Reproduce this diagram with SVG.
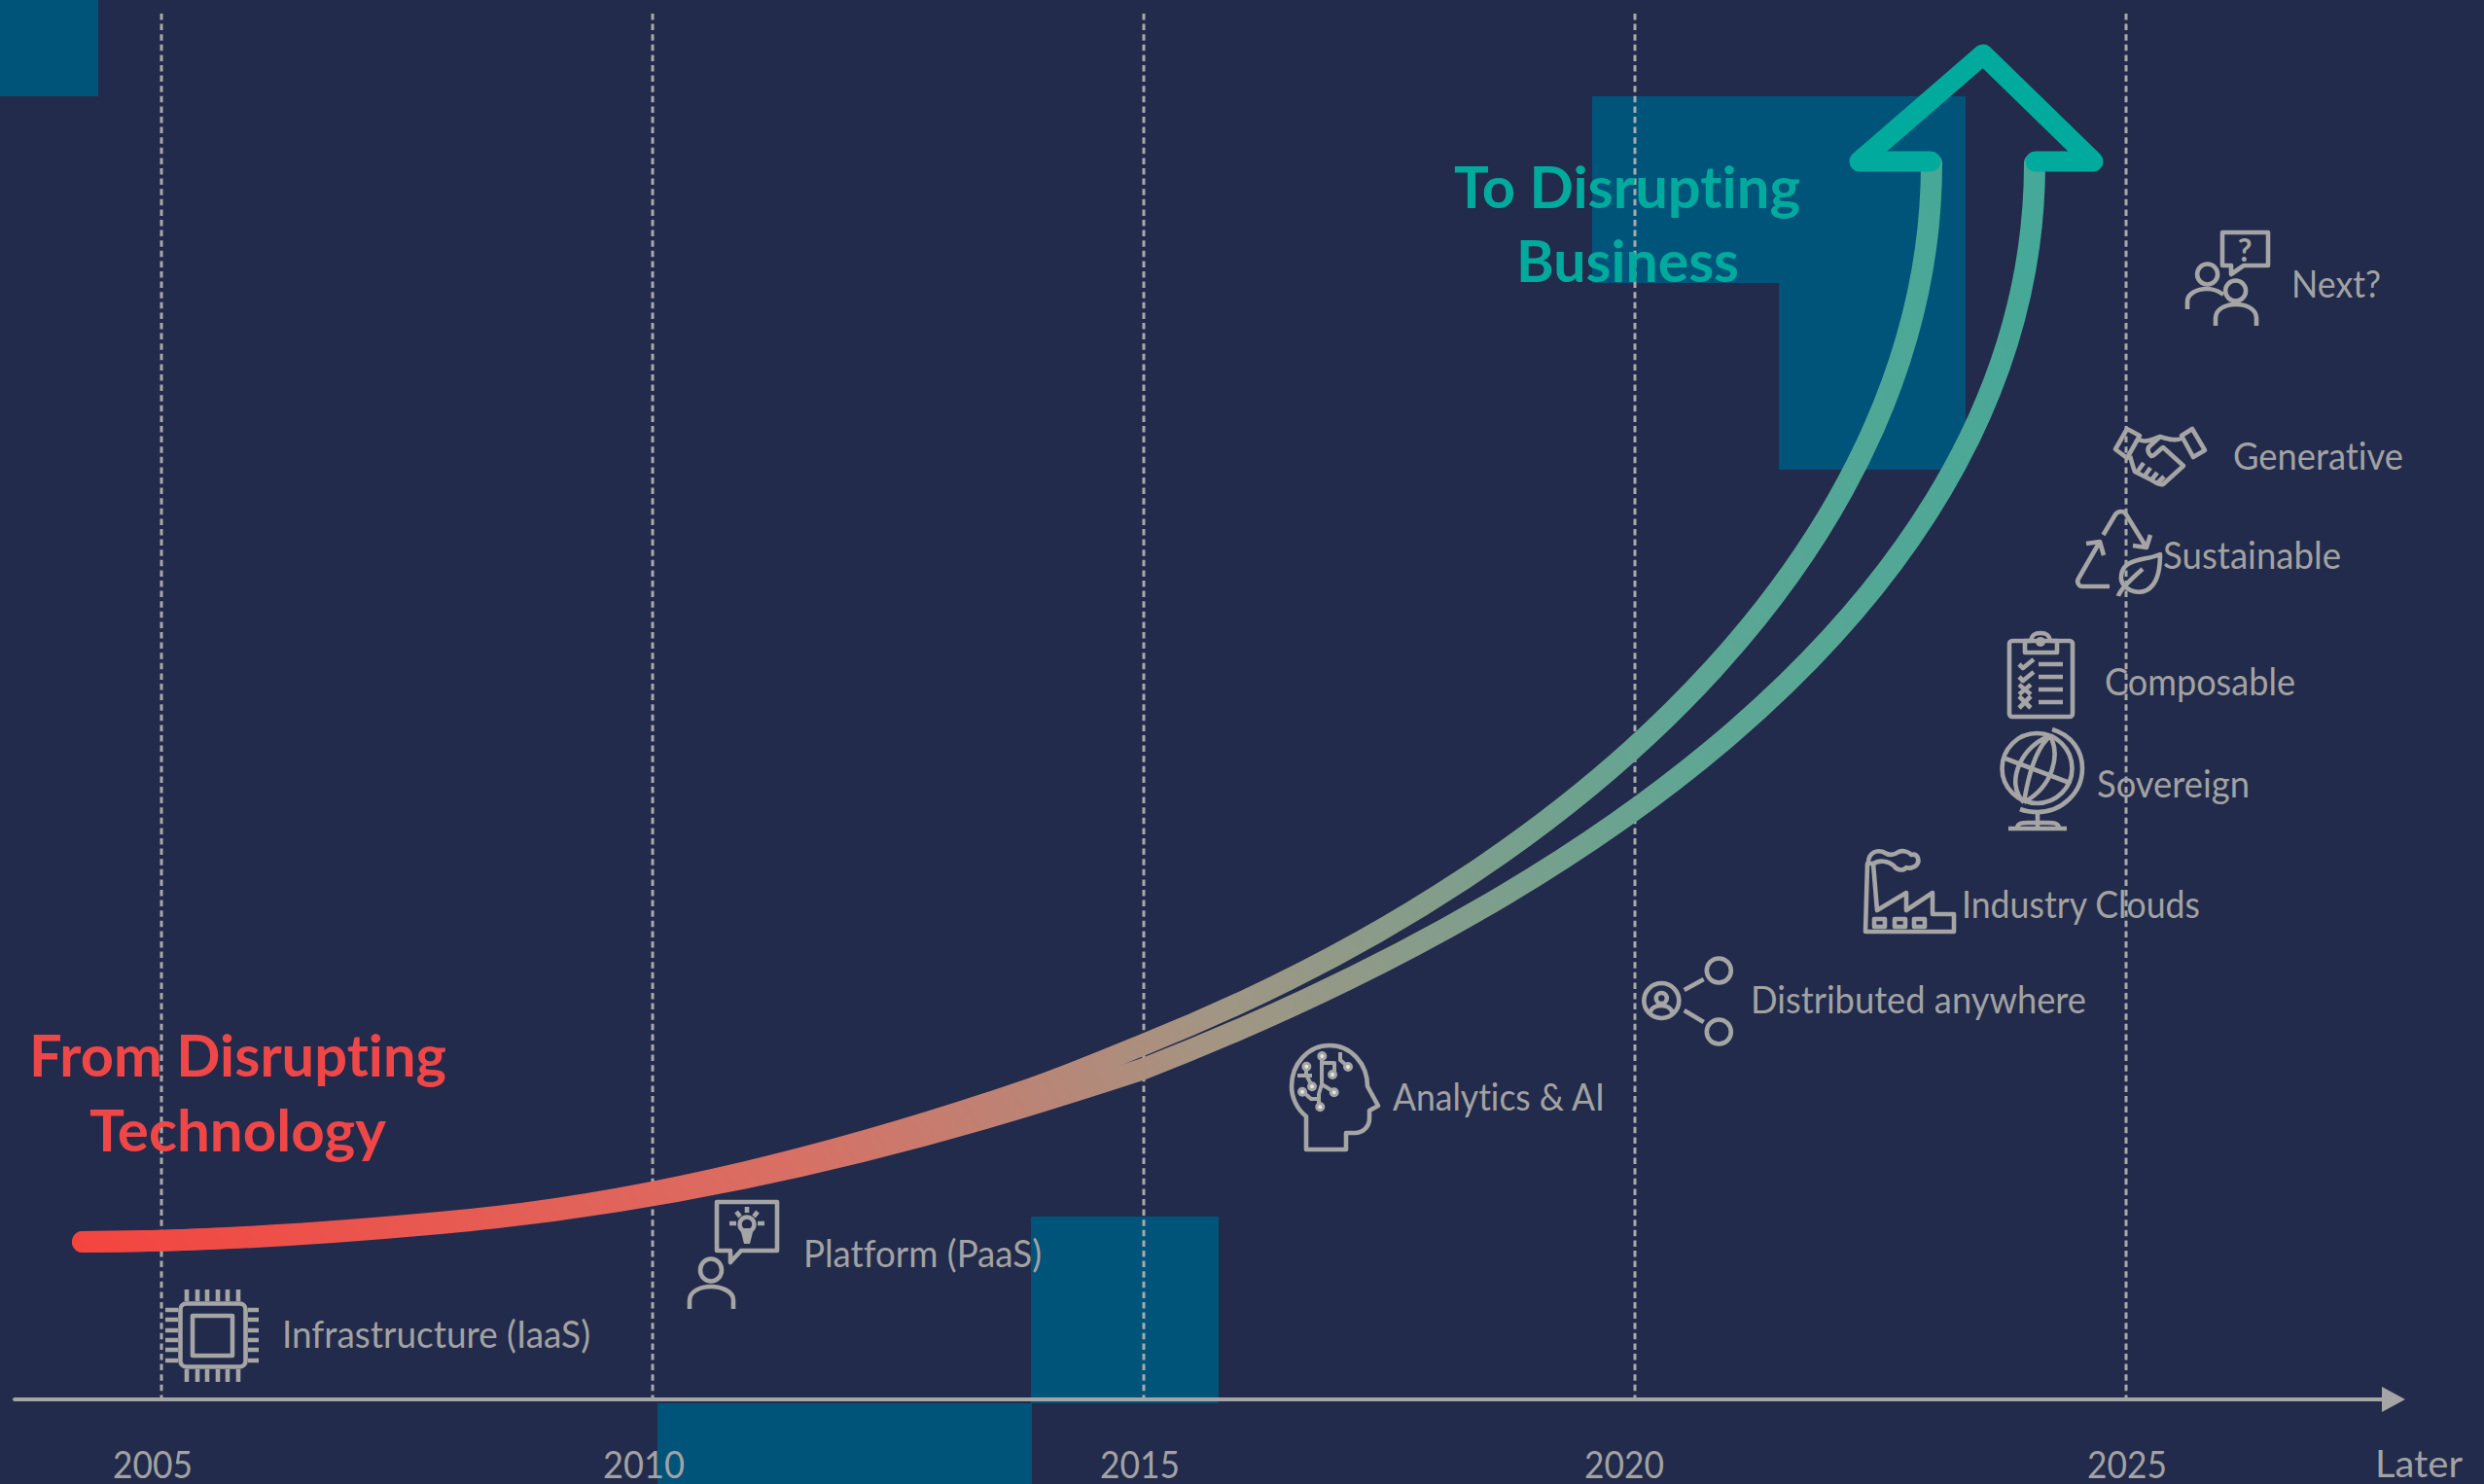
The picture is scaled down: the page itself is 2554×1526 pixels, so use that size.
<svg xmlns="http://www.w3.org/2000/svg" width="2554" height="1526" viewBox="0 0 2554 1526">
<style>
text{font-family:"Lato","Liberation Sans",sans-serif;font-variant-ligatures:none}
.l{font-size:39px;fill:#A2A2A2}
.h{font-size:59px;font-weight:700}
.r{fill:#EF4747}
.t{fill:#00AB9D}
.i{fill:none;stroke:#A5A5A5;stroke-width:4.6;stroke-linejoin:round}
.f{fill:#A5A5A5;stroke:none}
.d{fill:#E4E4E4;stroke:#A5A5A5;stroke-width:3}
.b{fill:#00547A}
.g{stroke:#A9A9A9;stroke-width:3;stroke-dasharray:6.5 4.1;fill:none}
.c{fill:none;stroke:url(#cg);stroke-width:22;stroke-linecap:round}
</style>
<defs>
<linearGradient id="cg" gradientUnits="userSpaceOnUse" x1="75" y1="1277" x2="2040" y2="170">
<stop offset="0" stop-color="#F5443F"/>
<stop offset="0.3" stop-color="#D96F64"/>
<stop offset="0.5" stop-color="#A39583"/>
<stop offset="0.75" stop-color="#5FA693"/>
<stop offset="1" stop-color="#45A898"/>
</linearGradient>
</defs>
<rect width="2554" height="1526" fill="#222B4B"/>
<g id="backdrop">
<rect class="b" x="0" y="0" width="101" height="99"/>
<path class="b" d="M1637 99H2021V483H1829V291H1637Z"/>
<rect class="b" x="1060" y="1251" width="193" height="192"/>
<rect class="b" x="676" y="1443" width="385" height="83"/>
</g>
<g id="connectors">
<path class="g" d="M166 14V1438M671 14V1438M1176 14V1438M1681 14V1438M2186 14V1438"/>
<path d="M15 1439H2452" stroke="#A5A5A5" stroke-width="4" stroke-linecap="round" fill="none"/>
<path d="M2449 1426L2473 1439L2449 1452Z" fill="#A5A5A5"/>
<path class="c" d="M85 1277C218 1277 351 1267 484 1254C673 1235 861 1187 1050 1123C1092 1109 1134 1091 1176 1074C1656 882 1986 540 1986 168"/>
<path class="c" d="M85 1277C218 1277 351 1268 484 1255C673 1236 861 1196 1050 1139C1092 1126 1134 1113 1176 1099C1716 888 2092 564 2092 168"/>
<path d="M1985 166H1912L2039 56L2152 166H2093" fill="none" stroke="#00AB9D" stroke-width="21" stroke-linecap="round" stroke-linejoin="round"/>
</g>
<g id="years">
<text class="l" x="116" y="1520" textLength="82" lengthAdjust="spacingAndGlyphs">2005</text>
<text class="l" x="620" y="1520" textLength="84" lengthAdjust="spacingAndGlyphs">2010</text>
<text class="l" x="1131" y="1520" textLength="82" lengthAdjust="spacingAndGlyphs">2015</text>
<text class="l" x="1629" y="1520" textLength="82" lengthAdjust="spacingAndGlyphs">2020</text>
<text class="l" x="2146" y="1520" textLength="82" lengthAdjust="spacingAndGlyphs">2025</text>
<text class="l" x="2442" y="1519" textLength="90" lengthAdjust="spacingAndGlyphs">Later</text>
</g>
<g id="title-from">
<text class="h r" x="30" y="1107" textLength="429" lengthAdjust="spacingAndGlyphs">From Disrupting</text>
<text class="h r" x="92" y="1184" textLength="305" lengthAdjust="spacingAndGlyphs">Technology</text>
</g>
<g id="title-to">
<text class="h t" x="1495" y="214" textLength="356" lengthAdjust="spacingAndGlyphs">To Disrupting</text>
<text class="h t" x="1559" y="290" textLength="229" lengthAdjust="spacingAndGlyphs">Business</text>
</g>
<g id="node-iaas">
<rect class="i" x="185.500" y="1340.500" width="67" height="65" rx="6"/>
<rect class="i" x="198" y="1353" width="41" height="41"/>
<path class="i" d="M192 1326V1338M203 1326V1338M213 1326V1338M224 1326V1338M234 1326V1338M245 1326V1338M192 1408V1421M203 1408V1421M213 1408V1421M224 1408V1421M234 1408V1421M245 1408V1421M170 1347H183M170 1357H183M170 1368H183M170 1378H183M170 1388H183M170 1399H183M255 1347H266M255 1357H266M255 1368H266M255 1378H266M255 1388H266M255 1399H266"/>
<text class="l" x="290" y="1386" textLength="317" lengthAdjust="spacingAndGlyphs">Infrastructure (IaaS)</text>
</g>
<g id="node-paas">
<path class="i" d="M737 1236H799V1286H762L751 1298V1286H737Z"/>
<circle class="i" cx="768" cy="1259" r="7.500"/>
<path class="f" d="M761 1263H775L771 1279H765Z"/>
<path class="i" d="M768 1241V1247M757 1246L761 1251M779 1246L775 1251M750 1258H757M779 1258H786"/>
<ellipse class="i" cx="731" cy="1306" rx="11" ry="11.500"/>
<path class="i" d="M709 1346V1337C709 1328 720 1323 731 1323C742 1323 754 1328 754 1337V1346"/>
<text class="l" x="826" y="1303" textLength="245" lengthAdjust="spacingAndGlyphs">Platform (PaaS)</text>
</g>
<g id="node-ai">
<path class="i" d="M1343 1182V1148C1333 1140 1328 1128 1328 1117C1328 1094 1345 1075 1367 1075C1389 1075 1406 1094 1406 1117L1417 1137L1408 1142V1150C1408 1159 1401 1165 1393 1165H1384V1182Z"/>
<path class="i" style="stroke-width:4" d="M1359 1086V1115L1372 1123M1359 1093H1372V1105M1359 1115L1356 1125V1138M1339 1122L1348 1130H1356M1343 1097V1105L1349 1117M1334 1106H1349M1378 1082V1090L1386 1097"/>
<circle class="d" cx="1343.300" cy="1096.700" r="3.500"/><circle class="d" cx="1359.300" cy="1086" r="3.500"/><circle class="d" cx="1370" cy="1105" r="3.500"/><circle class="d" cx="1386" cy="1097" r="3.500"/><circle class="d" cx="1349" cy="1117.300" r="3.500"/><circle class="d" cx="1339" cy="1122.700" r="3.500"/><circle class="d" cx="1371.700" cy="1123.300" r="3.500"/><circle class="d" cx="1357.300" cy="1138.300" r="3.500"/>
<text class="l" x="1432" y="1142" textLength="218" lengthAdjust="spacingAndGlyphs">Analytics &amp; AI</text>
</g>
<g id="node-distributed">
<circle class="i" cx="1708.300" cy="1029" r="18"/>
<circle class="i" cx="1708.300" cy="1026.500" r="5.500"/>
<path class="i" d="M1696 1043C1697 1036 1703 1034 1708 1034C1713 1034 1719 1036 1720 1043"/>
<circle class="i" cx="1767.300" cy="998" r="12.500"/>
<circle class="i" cx="1767.300" cy="1061" r="12.500"/>
<path class="i" d="M1731.700 1018L1751.700 1007M1731.700 1039L1751.700 1051"/>
<text class="l" x="1800" y="1042" textLength="345" lengthAdjust="spacingAndGlyphs">Distributed anywhere</text>
</g>
<g id="node-clouds">
<path class="i" d="M1918 958H2009V940H1987V918L1960 936V918L1930 936L1926 888H1920Z"/>
<rect class="i" x="1927" y="945" width="11" height="8"/><rect class="i" x="1948" y="945" width="11" height="8"/><rect class="i" x="1968" y="945" width="11" height="8"/>
<path class="i" d="M1921 886C1922 876 1930 874 1936 876C1942 880 1947 880 1952 876C1957 874 1963 876 1965 879C1972 877 1974 885 1971 889C1968 893 1962 893 1960 892C1957 896 1950 895 1947 890C1942 886 1932 883 1925 889"/>
<text class="l" x="2017" y="944" textLength="245" lengthAdjust="spacingAndGlyphs">Industry Clouds</text>
</g>
<g id="node-sovereign">
<circle class="i" cx="2094.500" cy="790" r="36"/>
<path class="i" d="M2110 750C2130 756 2141 772 2141 790C2141 816 2119 835 2095 835C2088 835 2082 834 2077 832"/>
<path class="i" d="M2108 757C2092 770 2085 800 2081 825M2108 757C2118 775 2112 808 2081 825M2108 757C2080 765 2060 805 2081 825M2062 780L2128 805"/>
<path class="i" d="M2095 835V850M2074 851C2075 846 2080 846 2085 846H2105C2111 846 2116 846 2117 851"/>
<path d="M2065 852H2125" stroke="#A5A5A5" stroke-width="4.600" fill="none"/>
<text class="l" x="2156" y="820" textLength="157" lengthAdjust="spacingAndGlyphs">Sovereign</text>
</g>
<g id="node-composable">
<rect class="i" x="2066" y="659" width="65" height="78" rx="3"/>
<path class="i" d="M2082 659V671H2115V659H2108C2107 652 2103 651 2098 651C2093 651 2089 652 2088 659Z"/>
<circle class="f" cx="2098" cy="660" r="5"/>
<path class="i" d="M2096 683H2121M2096 696H2121M2096 709H2121M2096 722H2121"/>
<path class="i" d="M2076 683L2080 687L2091 678M2076 696L2080 700L2091 691M2076 704L2088 714M2088 704L2076 714M2076 716L2088 728M2088 716L2076 728"/>
<text class="l" x="2164" y="715" textLength="196" lengthAdjust="spacingAndGlyphs">Composable</text>
</g>
<g id="node-sustainable">
<path class="i" d="M2162.500 550L2175 529C2178 525 2184 525 2186 529L2207 563M2211 550L2207 563L2193 561"/>
<path class="i" d="M2169 603H2141C2137 603 2135 598 2137 595L2159 557M2145 559L2159 557L2163 571"/>
<path class="i" d="M2221 570C2210 575 2198 574 2188 580C2180 585 2179 597 2184 602C2192 611 2206 611 2213 602C2220 594 2221 582 2221 570Z"/>
<path class="i" d="M2178 613C2180 605 2195 592 2203 585"/>
<text class="l" x="2224" y="585" textLength="183" lengthAdjust="spacingAndGlyphs">Sustainable</text>
</g>
<g id="node-generative">
<path class="i" d="M2187 441L2200 448L2187 471L2175 462Z"/>
<path class="i" d="M2254 441L2267 463L2255 470L2243 448Z"/>
<path class="i" d="M2199 452C2207 456 2214 451 2221 449C2228 451 2236 454 2243 451M2221 449L2210 459C2207 462 2209 467 2212 469C2216 469 2219 463 2224 460L2245 479L2224 498C2220 499 2217 497 2213 494L2195 485C2193 480 2192 475 2190 469"/>
<path class="i" d="M2197 486L2204 476M2204 491L2211 481M2211 495L2218 486M2218 497L2225 490"/>
<text class="l" x="2296" y="483" textLength="175" lengthAdjust="spacingAndGlyphs">Generative</text>
</g>
<g id="node-next">
<path class="i" d="M2285 239H2332V273H2307L2294 282V273H2285Z"/>
<text x="2308" y="269" font-size="32" font-weight="700" fill="#A5A5A5" text-anchor="middle">?</text>
<circle class="i" cx="2269.600" cy="282" r="10.500"/>
<path class="i" d="M2249 318V310C2249 302 2259 297 2269 297C2275 297 2281 299 2286 303"/>
<circle class="i" cx="2298.600" cy="299" r="10.500"/>
<path class="i" d="M2278 335V327C2278 318 2288 313 2299 313C2310 313 2320 318 2320 327V335"/>
<text class="l" x="2356" y="306" textLength="92" lengthAdjust="spacingAndGlyphs">Next?</text>
</g>
</svg>
